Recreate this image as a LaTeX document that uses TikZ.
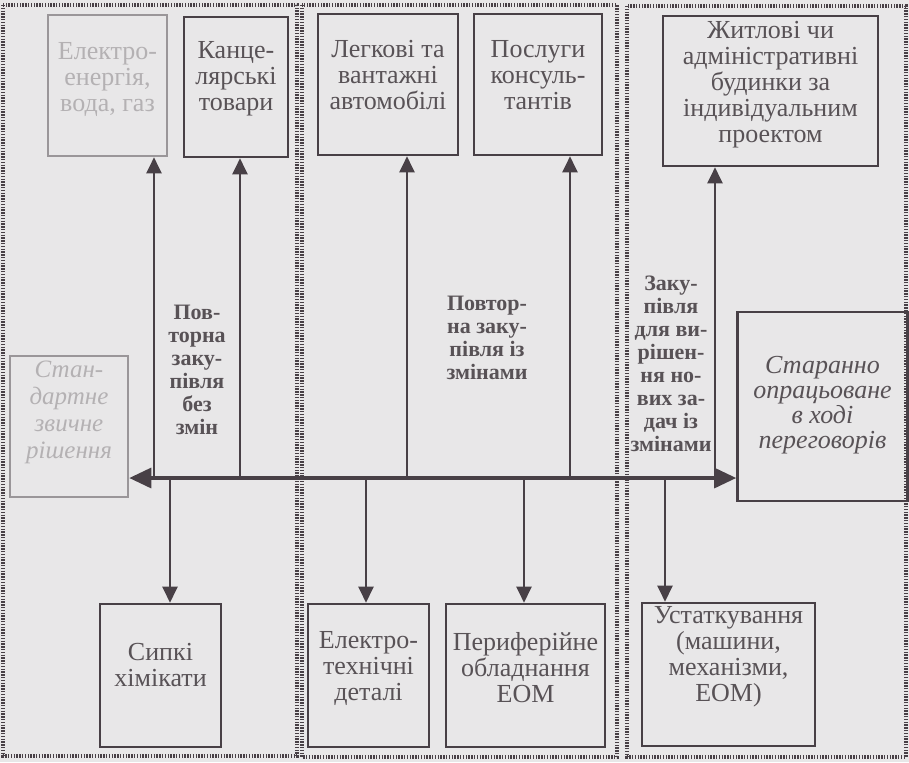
\documentclass[tikz,border=0pt]{standalone}
\usepackage{fontspec}
\setmainfont{Liberation Serif}
\usetikzlibrary{arrows.meta,positioning}

\definecolor{ink}{RGB}{72,64,70}
\definecolor{inktext}{RGB}{88,82,86}
\definecolor{paper}{RGB}{232,231,232}

\begin{document}
\begin{tikzpicture}[x=0.5pt,y=-0.5pt,
    box/.style={draw=ink, line width=1.3pt, rectangle, inner sep=0pt},
    boxtext/.style={text=inktext, align=center, inner sep=0pt,
                    font=\fontsize{13}{13}\selectfont},
    faded/.style={draw=ink!55},
    fadedtext/.style={text=inktext!45},
    kind/.style={text=inktext, align=center, inner sep=0pt,
                 font=\bfseries\fontsize{11}{11.5}\selectfont},
    link/.style={draw=ink, line width=1.1pt, -{Triangle[length=8pt,width=7.5pt]}},
    bus/.style={draw=ink, line width=1.6pt,
                {Triangle[length=11pt,width=10pt]}-{Triangle[length=11pt,width=10pt]}},
    group/.style={draw=ink, line width=1.6pt, dash pattern=on 0.7pt off 0.7pt}]

  \fill[paper] (0,0) rectangle (909,762);

  % three kinds of purchase
  \draw[group] (3,5) rectangle (297,756);
  \draw[group] (302,5) rectangle (617,757);
  \draw[group] (627,6) rectangle (906,757);

  % goods bought
  \node[box, faded, minimum width=59.5pt, minimum height=70.5pt] (elec) at (107.5,85.5) {};
  \node[boxtext, fadedtext] (elec-t) at (107.5,79) {Електро-\\енергія,\\вода, газ};
  \node[box, minimum width=52pt, minimum height=70pt] (kanc) at (236,87) {};
  \node[boxtext] (kanc-t) at (236,79) {Канце-\\лярські\\товари};
  \node[box, minimum width=70pt, minimum height=70.5pt] (auto) at (388,84.5) {};
  \node[boxtext] (auto-t) at (388,75) {Легкові та\\вантажні\\автомобілі};
  \node[box, minimum width=64pt, minimum height=70.5pt] (cons) at (538,84.5) {};
  \node[boxtext] (cons-t) at (538,75) {Послуги\\консуль-\\тантів};
  \node[box, minimum width=107.5pt, minimum height=75pt] (house) at (770.5,91) {};
  \node[boxtext] (house-t) at (770.5,85) {Житлові чи\\адміністративні\\будинки за\\індивідуальним\\проектом};

  \node[box, faded, minimum width=59pt, minimum height=70.5pt] (std) at (69,426.5) {};
  \node[boxtext, fadedtext, font=\itshape\fontsize{12.5}{13.5}\selectfont] (std-t) at (69,412)
    {Стан-\\дартне\\звичне\\рішення};
  \node[box, minimum width=85pt, minimum height=94.5pt] (care) at (822.5,406.5) {};
  \node[boxtext, font=\itshape\fontsize{13}{12.5}\selectfont] (care-t) at (822.5,405)
    {Старанно\\опрацьоване\\в ході\\переговорів};

  \node[box, minimum width=60.5pt, minimum height=71.5pt] (chem) at (160.5,675.5) {};
  \node[boxtext] (chem-t) at (160.5,665) {Сипкі\\хімікати};
  \node[box, minimum width=60.5pt, minimum height=71.5pt] (etech) at (368.5,675.5) {};
  \node[boxtext] (etech-t) at (368.5,668) {Електро-\\технічні\\деталі};
  \node[box, minimum width=79.5pt, minimum height=71.5pt] (peri) at (525.5,675.5) {};
  \node[boxtext] (peri-t) at (525.5,668) {Периферійне\\обладнання\\ЕОМ};
  \node[box, minimum width=86.5pt, minimum height=71.5pt] (equip) at (728.5,674.5) {};
  \node[boxtext] (equip-t) at (728.5,657) {Устаткування\\(машини,\\механізми,\\ЕОМ)};

  % main axis and branches
  \coordinate (hub) at (430,478);
  \draw[bus] (std.east |- hub) -- (care.west |- hub);
  \foreach \x/\n in {154/elec, 240/kanc, 407/auto, 570/cons, 715/house}
    \draw[link] (hub -| \x,0) -- (\n.south -| \x,0);
  \foreach \x/\n in {170/chem, 366/etech, 524/peri, 665/equip}
    \draw[link] (hub -| \x,0) -- (\n.north -| \x,0);

  \node[kind] (same) at (197,370) {Пов-\\торна\\заку-\\півля\\без\\змін};
  \node[kind] (modified) at (487,338) {Повтор-\\на заку-\\півля із\\змінами};
  \node[kind] (newtask) at (671,364)
    {Заку-\\півля\\для ви-\\рішен-\\ня но-\\вих за-\\дач із\\змінами};
\end{tikzpicture}
\end{document}
